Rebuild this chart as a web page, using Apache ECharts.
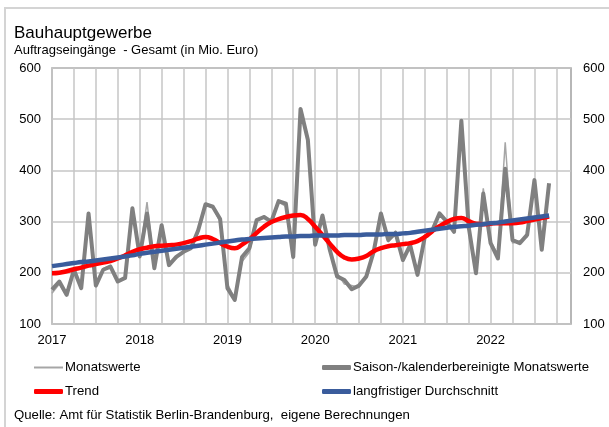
<!DOCTYPE html>
<html>
  <head>
    <meta charset="utf-8" />
    <title>Bauhauptgewerbe</title>
    <script src="https://cdn.jsdelivr.net/npm/echarts@6.0.0/dist/echarts.min.js"></script>
    <style>
      html, body { margin: 0; padding: 0; background: #fff; }
    </style>
  </head>
  <body>
    <div id="main" style="width: 609px; height: 427px"></div>

    <script type="text/javascript">
      // Jahre auf der x-Achse (Monatsachse Jan 2017 - Dez 2022)
      const years = ['2017', '2018', '2019', '2020', '2021', '2022']

      // Monatswerte (dünne Linie), Jan 2017 - Sep 2022
      const monatswerte = [
        160, 178, 155, 210, 168, 312, 172, 208, 215, 186, 188, 322,
        238, 338, 212, 290, 218, 228, 244, 250, 280, 332, 328, 300,
        178, 150, 222, 240, 300, 312, 296, 338, 330, 235, 515, 462,
        260, 308, 240, 200, 178, 175, 172, 195, 238, 318, 260, 282,
        230, 250, 198, 268, 285, 318, 298, 282, 490, 288, 203, 365,
        262, 235, 455, 258, 262, 270, 378, 250, 370
      ]

      // Saison-/kalenderbereinigte Monatswerte
      const bereinigt = [
        167, 183, 157, 206, 170, 316, 175, 206, 212, 183, 190, 326,
        232, 316, 209, 293, 215, 231, 241, 248, 283, 334, 329, 305,
        170, 147, 231, 248, 303, 309, 300, 340, 335, 231, 520, 460,
        255, 312, 245, 193, 186, 168, 175, 193, 241, 316, 264, 278,
        225, 254, 196, 270, 282, 316, 300, 280, 497, 290, 199, 355,
        258, 228, 403, 264, 258, 274, 381, 245, 375
      ]

      // Trend
      const trend = [
        199, 200, 203, 207, 210, 214, 217, 220, 223, 228, 234, 241,
        246, 249, 252, 253, 254, 255, 258, 262, 267, 270, 266, 258,
        251, 248, 255, 265, 278, 290, 299, 305, 309, 312, 313, 305,
        290, 274, 257, 241, 230, 226, 228, 233, 242, 248, 252, 254,
        256, 258, 262, 270, 281, 291, 299, 305, 307, 301, 296, 295,
        296, 297, 297, 297, 298, 301, 304, 307, 310
      ]

      // langfristiger Durchschnitt
      const durchschnitt = [
        213, 215, 217, 219, 221, 222, 224, 226, 228, 230, 232, 234,
        237, 239, 241, 243, 245, 247, 249, 251, 253, 255, 257, 259,
        261, 263, 265, 266, 267, 268, 269, 270, 271, 271, 272, 272,
        273, 273, 273, 273, 274, 274, 274, 275, 275, 275, 276, 276,
        277, 278, 280, 282, 284, 286, 288, 290, 291, 292, 294, 295,
        297, 298, 300, 302, 304, 306, 308, 310, 312
      ]

      const yTicks = [100, 200, 300, 400, 500, 600]

      // Monatskategorien aus den Jahren
      const months = []
      years.forEach((y) => {
        for (let m = 1; m <= 12; m++) months.push(y + '-' + (m < 10 ? '0' + m : m))
      })

      const font = 'Liberation Sans, Arial, sans-serif'
      const labelStyle = { color: '#000', fontSize: 13, fontFamily: font }

      var myChart = echarts.init(document.getElementById('main'))

      function legendItem(name, left, top, h, icon) {
        return {
          data: [name],
          left: left,
          top: top,
          icon: icon,
          itemWidth: 29,
          itemHeight: h,
          padding: 0,
          selectedMode: false,
          textStyle: { color: '#000', fontSize: 13.2, fontFamily: font, padding: [0, 0, 0, -3] },
        }
      }

      option = {
        animation: false,
        graphic: [
          {
            type: 'rect',
            shape: { x: 5, y: 8, width: 700, height: 500 },
            style: { fill: 'none', stroke: '#d4d4d4', lineWidth: 2 },
            silent: true,
          },
        ],
        title: [
          {
            text: 'Bauhauptgewerbe',
            left: 14,
            top: 25,
            padding: 0,
            textStyle: { fontSize: 17, fontWeight: 'normal', color: '#000', fontFamily: font },
          },
          {
            text: 'Auftragseingänge  - Gesamt (in Mio. Euro)',
            left: 14,
            top: 44,
            padding: 0,
            textStyle: { fontSize: 13, fontWeight: 'normal', color: '#000', fontFamily: font },
          },
          {
            text: 'Quelle: Amt für Statistik Berlin-Brandenburg,  eigene Berechnungen',
            left: 14,
            top: 409,
            padding: 0,
            textStyle: { fontSize: 13.2, fontWeight: 'normal', color: '#000', fontFamily: font },
          },
        ],
        legend: [
          legendItem('Monatswerte', 34, 361, 2, 'rect'),
          legendItem('Saison-/kalenderbereinigte Monatswerte', 322, 361, 5, 'roundRect'),
          legendItem('Trend', 34, 385, 5, 'roundRect'),
          legendItem('langfristiger Durchschnitt', 322, 385, 5, 'roundRect'),
        ],
        grid: {
          left: 52,
          right: 38,
          top: 68,
          bottom: 103,
          show: true,
          borderColor: '#a0a0a0',
          borderWidth: 1.5,
          backgroundColor: 'transparent',
        },
        xAxis: {
          type: 'category',
          data: months,
          boundaryGap: false,
          axisLine: { show: false },
          axisTick: { show: false },
          axisLabel: {
            ...labelStyle,
            margin: 10,
            interval: (i) => i % 12 === 0,
            formatter: (v) => v.slice(0, 4),
          },
          splitLine: {
            show: true,
            interval: (i) => i % 3 === 0,
            lineStyle: { color: '#c6c6c6', width: 1.5 },
          },
        },
        yAxis: [
          {
            type: 'value',
            min: yTicks[0],
            max: yTicks[yTicks.length - 1],
            interval: 100,
            axisLine: { show: false },
            axisTick: { show: false },
            axisLabel: { ...labelStyle, margin: 11 },
            splitLine: { lineStyle: { color: '#c6c6c6', width: 1.5 } },
          },
          {
            type: 'value',
            position: 'right',
            min: yTicks[0],
            max: yTicks[yTicks.length - 1],
            interval: 100,
            axisLine: { show: false },
            axisTick: { show: false },
            axisLabel: { ...labelStyle, margin: 12 },
            splitLine: { show: false },
          },
        ],
        series: [
          {
            name: 'Monatswerte',
            type: 'line',
            data: monatswerte,
            showSymbol: false,
            color: '#a6a6a6',
            lineStyle: { color: '#a6a6a6', width: 1.5 },
          },
          {
            name: 'Saison-/kalenderbereinigte Monatswerte',
            type: 'line',
            data: bereinigt,
            showSymbol: false,
            color: '#808080',
            lineStyle: { color: '#808080', width: 4, join: 'round' },
          },
          {
            name: 'Trend',
            type: 'line',
            data: trend,
            showSymbol: false,
            smooth: true,
            color: '#ff0000',
            lineStyle: { color: '#ff0000', width: 4.5 },
          },
          {
            name: 'langfristiger Durchschnitt',
            type: 'line',
            data: durchschnitt,
            showSymbol: false,
            smooth: true,
            color: '#3a5c9c',
            lineStyle: { color: '#3a5c9c', width: 4.5 },
          },
        ],
      }

      myChart.setOption(option)
    </script>
  </body>
</html>
